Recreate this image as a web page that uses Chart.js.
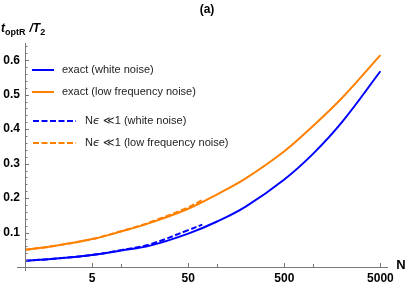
<!DOCTYPE html>
<html>
<head>
<meta charset="utf-8">
<script src="https://cdn.jsdelivr.net/npm/chart.js@4"></script>
<style>
  html, body { margin: 0; padding: 0; background: #fff; }
  canvas { display: block; }
</style>
</head>
<body>
<canvas id="myChart" width="409" height="285"></canvas>
<script>
// data
const nExact = [1, 2, 5, 10, 20, 50, 100, 200, 500, 1000, 2000, 5000];
const whiteExact = [0.018, 0.024, 0.035, 0.048, 0.062, 0.097, 0.132, 0.176, 0.254, 0.329, 0.421, 0.568];
const lowExact = [0.050, 0.061, 0.081, 0.103, 0.128, 0.169, 0.211, 0.258, 0.336, 0.410, 0.491, 0.615];

const nSmall = [1, 2, 5, 10, 20, 50, 70];
const whiteSmall = [0.018, 0.024, 0.035, 0.049, 0.066, 0.107, 0.123];
const lowSmall = [0.050, 0.061, 0.081, 0.104, 0.130, 0.173, 0.194];

const xTicks = [5, 10, 50, 100, 500, 1000, 5000];
const xTickLabels = [5, 50, 500, 5000];
const yTickLabels = [0.1, 0.2, 0.3, 0.4, 0.5, 0.6];

const legendLabels = [
  'exact (white noise)',
  'exact (low frequency noise)',
  'N\u03F5 \u226A1 (white noise)',
  'N\u03F5 \u226A1 (low frequency noise)'
];

const BLUE = '#0000ff';
const ORANGE = '#ff8000';
const FONT = '"Liberation Sans", Arial, sans-serif';

let pts = (xs, ys) => xs.map((x, i) => ({ x: x, y: ys[i] }));

// y minor ticks every 0.02
let yMinor = [];
for (let i = 0; i <= 32; i++) yMinor.push(+(i * 0.02).toFixed(2));

// legend text, with the epsilon drawn in italic
function legendText(ctx, txt, x, y) {
  const k = txt.indexOf('\u03F5');
  if (k < 0) { ctx.fillText(txt, x, y); return; }
  const a = txt.slice(0, k), b = txt.slice(k + 1);
  ctx.font = '11px ' + FONT;
  ctx.fillText(a, x, y); x += ctx.measureText(a).width;
  ctx.font = 'italic 11px "DejaVu Sans", sans-serif';
  ctx.fillText('\u03F5', x, y); x += ctx.measureText('\u03F5').width;
  ctx.font = '11px ' + FONT;
  ctx.fillText(b, x, y);
}

// axes, tick marks, legend and labels (Mathematica style)
const decorations = {
  id: 'decorations',
  afterDraw(chart) {
    const ctx = chart.ctx;
    const xs = chart.scales.x, ys = chart.scales.y;
    const a = chart.chartArea;
    const x0 = xs.getPixelForValue(1);
    const y0 = ys.getPixelForValue(0);
    ctx.save();
    ctx.strokeStyle = '#777';
    ctx.lineWidth = 1;
    ctx.beginPath();
    ctx.moveTo(x0 - 8, Math.round(y0) + 0.5);
    ctx.lineTo(a.right, Math.round(y0) + 0.5);
    ctx.moveTo(Math.round(x0) + 0.5, y0 + 4);
    ctx.lineTo(Math.round(x0) + 0.5, a.top);
    ctx.stroke();

    // y ticks
    ctx.beginPath();
    yMinor.forEach(v => {
      const y = Math.round(ys.getPixelForValue(v)) + 0.5;
      const major = Math.abs(v * 10 - Math.round(v * 10)) < 1e-6;
      ctx.moveTo(x0, y);
      ctx.lineTo(x0 + (major ? 4 : 2.5), y);
    });
    // x ticks
    xTicks.forEach(v => {
      const x = Math.round(xs.getPixelForValue(v)) + 0.5;
      const major = xTickLabels.includes(v);
      ctx.moveTo(x, y0);
      ctx.lineTo(x, y0 - (major ? 4 : 3));
    });
    ctx.stroke();

    // legend
    const items = [
      { c: BLUE, dash: [], y: 70, x1: 32, x2: 54, tx: 62 },
      { c: ORANGE, dash: [], y: 92, x1: 32, x2: 54, tx: 62 },
      { c: BLUE, dash: [6, 2.5], y: 121, x1: 33, x2: 76, tx: 85 },
      { c: ORANGE, dash: [6, 2.5], y: 143, x1: 33, x2: 76, tx: 85 }
    ];
    ctx.textBaseline = 'middle';
    items.forEach((it, i) => {
      ctx.strokeStyle = it.c;
      ctx.lineWidth = 2;
      ctx.setLineDash(it.dash);
      ctx.beginPath();
      ctx.moveTo(it.x1, it.y);
      ctx.lineTo(it.x2, it.y);
      ctx.stroke();
      ctx.setLineDash([]);
      ctx.fillStyle = '#222';
      ctx.font = '11px ' + FONT;
      legendText(ctx, legendLabels[i], it.tx, it.y);
    });

    // title
    ctx.fillStyle = '#000';
    ctx.textAlign = 'center';
    ctx.font = 'bold 12px ' + FONT;
    ctx.fillText('(a)', 207, 10);

    // x axis label
    ctx.font = 'bold 13px ' + FONT;
    ctx.fillText('N', 401, 265);

    // y axis label t_optR / T_2
    ctx.textAlign = 'left';
    ctx.textBaseline = 'alphabetic';
    let x = 1, base = 32;
    ctx.font = 'italic bold 12px ' + FONT;
    ctx.fillText('t', x, base); x += ctx.measureText('t').width;
    ctx.font = 'bold 9px ' + FONT;
    ctx.fillText('optR', x, base + 3); x += ctx.measureText('optR').width + 4;
    ctx.font = 'italic bold 12px ' + FONT;
    ctx.fillText('/T', x, base); x += ctx.measureText('/T').width;
    ctx.font = 'bold 9px ' + FONT;
    ctx.fillText('2', x, base + 3);
    ctx.restore();
  }
};

const chart = new Chart(document.getElementById('myChart'), {
  type: 'line',
  data: {
    datasets: [
      { label: legendLabels[2], data: pts(nSmall, whiteSmall), borderColor: BLUE, borderDash: [6, 2.5], order: 0 },
      { label: legendLabels[3], data: pts(nSmall, lowSmall), borderColor: ORANGE, borderDash: [6, 2.5], order: 0 },
      { label: legendLabels[0], data: pts(nExact, whiteExact), borderColor: BLUE, order: 1 },
      { label: legendLabels[1], data: pts(nExact, lowExact), borderColor: ORANGE, order: 1 }
    ]
  },
  options: {
    responsive: false,
    animation: false,
    layout: { padding: { top: 43, right: 21, left: 0, bottom: 0 } },
    elements: {
      point: { radius: 0 },
      line: { borderWidth: 2, tension: 0.4, fill: false }
    },
    plugins: { legend: { display: false }, tooltip: { enabled: false } },
    scales: {
      x: {
        type: 'logarithmic',
        min: 1,
        max: 6000,
        grid: { display: false, drawTicks: false },
        border: { display: false },
        afterBuildTicks: s => { s.ticks = xTicks.map(v => ({ value: v })); },
        afterFit: s => { s.height = 18; },
        ticks: {
          autoSkip: false,
          maxRotation: 0,
          padding: 4,
          color: '#000',
          font: { family: FONT, size: 12, weight: 'bold' },
          callback: v => xTickLabels.includes(v) ? String(v) : ''
        }
      },
      y: {
        min: 0,
        max: 0.65,
        grid: { display: false, drawTicks: false },
        border: { display: false },
        afterBuildTicks: s => { s.ticks = yTickLabels.map(v => ({ value: v })); },
        afterFit: s => { s.width = 25; },
        ticks: {
          padding: 5,
          color: '#000',
          font: { family: FONT, size: 12, weight: 'bold' },
          callback: v => v.toFixed(1)
        }
      }
    }
  },
  plugins: [decorations]
});
</script>
</body>
</html>
